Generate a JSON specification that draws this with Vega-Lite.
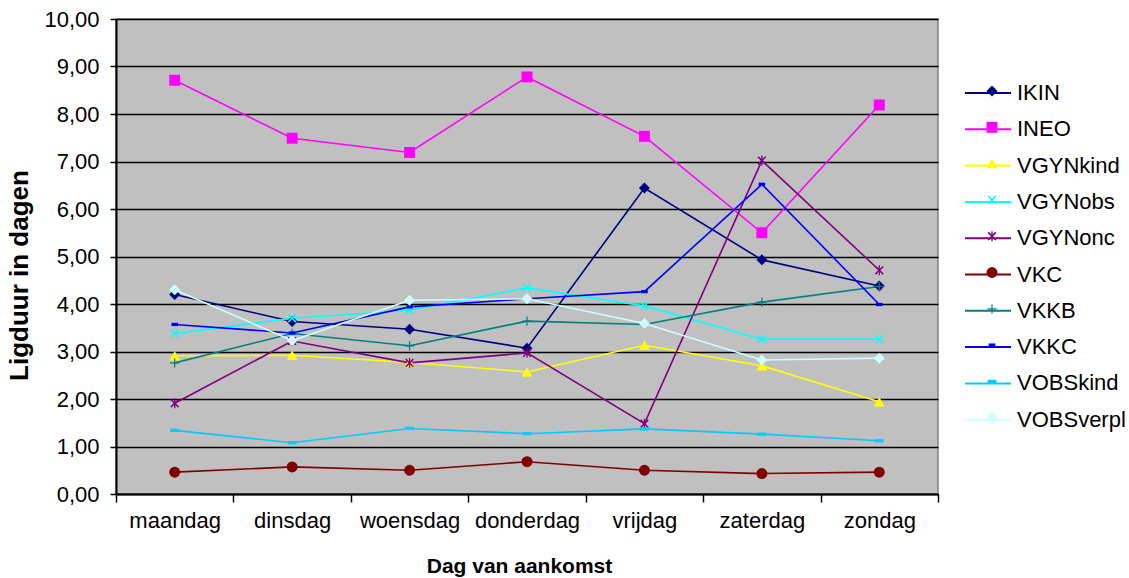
{
  "$schema": "https://vega.github.io/schema/vega-lite/v6.json",
  "width": 822,
  "height": 475,
  "autosize": "none",
  "padding": {"left": 116, "top": 19, "right": 191, "bottom": 84},
  "background": "white",
  "config": {
    "font": "Liberation Sans",
    "view": {"fill": "#C0C0C0", "stroke": "#808080", "strokeWidth": 1.5}
  },
  "data": {
    "values": [
      {"day": "maandag", "series": "IKIN", "value": 4.2},
      {"day": "dinsdag", "series": "IKIN", "value": 3.63},
      {"day": "woensdag", "series": "IKIN", "value": 3.47},
      {"day": "donderdag", "series": "IKIN", "value": 3.07},
      {"day": "vrijdag", "series": "IKIN", "value": 6.44},
      {"day": "zaterdag", "series": "IKIN", "value": 4.93},
      {"day": "zondag", "series": "IKIN", "value": 4.38},
      {"day": "maandag", "series": "INEO", "value": 8.71},
      {"day": "dinsdag", "series": "INEO", "value": 7.49},
      {"day": "woensdag", "series": "INEO", "value": 7.19},
      {"day": "donderdag", "series": "INEO", "value": 8.78},
      {"day": "vrijdag", "series": "INEO", "value": 7.53},
      {"day": "zaterdag", "series": "INEO", "value": 5.5},
      {"day": "zondag", "series": "INEO", "value": 8.19},
      {"day": "maandag", "series": "VGYNkind", "value": 2.91},
      {"day": "dinsdag", "series": "VGYNkind", "value": 2.92},
      {"day": "woensdag", "series": "VGYNkind", "value": 2.77},
      {"day": "donderdag", "series": "VGYNkind", "value": 2.57},
      {"day": "vrijdag", "series": "VGYNkind", "value": 3.13},
      {"day": "zaterdag", "series": "VGYNkind", "value": 2.7},
      {"day": "zondag", "series": "VGYNkind", "value": 1.94},
      {"day": "maandag", "series": "VGYNobs", "value": 3.38},
      {"day": "dinsdag", "series": "VGYNobs", "value": 3.7},
      {"day": "woensdag", "series": "VGYNobs", "value": 3.87},
      {"day": "donderdag", "series": "VGYNobs", "value": 4.34},
      {"day": "vrijdag", "series": "VGYNobs", "value": 3.96},
      {"day": "zaterdag", "series": "VGYNobs", "value": 3.26},
      {"day": "zondag", "series": "VGYNobs", "value": 3.26},
      {"day": "maandag", "series": "VGYNonc", "value": 1.91},
      {"day": "dinsdag", "series": "VGYNonc", "value": 3.22},
      {"day": "woensdag", "series": "VGYNonc", "value": 2.76},
      {"day": "donderdag", "series": "VGYNonc", "value": 2.97},
      {"day": "vrijdag", "series": "VGYNonc", "value": 1.48},
      {"day": "zaterdag", "series": "VGYNonc", "value": 7.02},
      {"day": "zondag", "series": "VGYNonc", "value": 4.71},
      {"day": "maandag", "series": "VKC", "value": 0.46},
      {"day": "dinsdag", "series": "VKC", "value": 0.57},
      {"day": "woensdag", "series": "VKC", "value": 0.5},
      {"day": "donderdag", "series": "VKC", "value": 0.68},
      {"day": "vrijdag", "series": "VKC", "value": 0.5},
      {"day": "zaterdag", "series": "VKC", "value": 0.43},
      {"day": "zondag", "series": "VKC", "value": 0.46},
      {"day": "maandag", "series": "VKKB", "value": 2.76},
      {"day": "dinsdag", "series": "VKKB", "value": 3.38},
      {"day": "woensdag", "series": "VKKB", "value": 3.12},
      {"day": "donderdag", "series": "VKKB", "value": 3.64},
      {"day": "vrijdag", "series": "VKKB", "value": 3.57},
      {"day": "zaterdag", "series": "VKKB", "value": 4.04},
      {"day": "zondag", "series": "VKKB", "value": 4.37},
      {"day": "maandag", "series": "VKKC", "value": 3.57},
      {"day": "dinsdag", "series": "VKKC", "value": 3.39},
      {"day": "woensdag", "series": "VKKC", "value": 3.94},
      {"day": "donderdag", "series": "VKKC", "value": 4.11},
      {"day": "vrijdag", "series": "VKKC", "value": 4.26},
      {"day": "zaterdag", "series": "VKKC", "value": 6.52},
      {"day": "zondag", "series": "VKKC", "value": 3.99},
      {"day": "maandag", "series": "VOBSkind", "value": 1.34},
      {"day": "dinsdag", "series": "VOBSkind", "value": 1.08},
      {"day": "woensdag", "series": "VOBSkind", "value": 1.38},
      {"day": "donderdag", "series": "VOBSkind", "value": 1.27},
      {"day": "vrijdag", "series": "VOBSkind", "value": 1.37},
      {"day": "zaterdag", "series": "VOBSkind", "value": 1.26},
      {"day": "zondag", "series": "VOBSkind", "value": 1.12},
      {"day": "maandag", "series": "VOBSverpl", "value": 4.3},
      {"day": "dinsdag", "series": "VOBSverpl", "value": 3.23},
      {"day": "woensdag", "series": "VOBSverpl", "value": 4.08},
      {"day": "donderdag", "series": "VOBSverpl", "value": 4.11},
      {"day": "vrijdag", "series": "VOBSverpl", "value": 3.59},
      {"day": "zaterdag", "series": "VOBSverpl", "value": 2.82},
      {"day": "zondag", "series": "VOBSverpl", "value": 2.86}
    ]
  },
  "encoding": {
    "x": {
      "field": "day",
      "type": "nominal",
      "sort": ["maandag", "dinsdag", "woensdag", "donderdag", "vrijdag", "zaterdag", "zondag"],
      "scale": {"paddingInner": 0, "paddingOuter": 0},
      "axis": {
        "title": "Dag van aankomst",
        "titleFontSize": 21,
        "titleFontWeight": "bold",
        "titleColor": "black",
        "titleX": 403,
        "titleY": 78,
        "titleAlign": "center",
        "titleBaseline": "alphabetic",
        "labelAngle": 0,
        "labelFontSize": 22,
        "labelColor": "black",
        "labelPadding": 8,
        "tickBand": "extent",
        "tickSize": 8,
        "tickColor": "black",
        "tickWidth": 1.5,
        "domainColor": "black",
        "domainWidth": 2,
        "grid": false
      }
    },
    "y": {
      "field": "value",
      "type": "quantitative",
      "scale": {"domain": [0, 10], "nice": false},
      "axis": {
        "title": "Ligduur in dagen",
        "titleFontSize": 26,
        "titleFontWeight": "bold",
        "titleColor": "black",
        "titleX": -97,
        "titleY": 256,
        "titleAngle": -90,
        "titleAlign": "center",
        "titleBaseline": "middle",
        "values": [0, 1, 2, 3, 4, 5, 6, 7, 8, 9, 10],
        "labelExpr": "replace(format(datum.value, '.2f'), '.', ',')",
        "labelFontSize": 22,
        "labelColor": "black",
        "labelPadding": 11,
        "tickSize": 6,
        "tickColor": "black",
        "tickWidth": 1.5,
        "domainColor": "black",
        "domainWidth": 2,
        "grid": true,
        "gridColor": "black",
        "gridWidth": 1.4
      }
    }
  },
  "layer": [
    {
      "mark": {"type": "line", "strokeWidth": 1.6},
      "encoding": {
        "stroke": {
          "field": "series",
          "type": "nominal",
          "scale": {
            "domain": ["IKIN", "INEO", "VGYNkind", "VGYNobs", "VGYNonc", "VKC", "VKKB", "VKKC", "VOBSkind", "VOBSverpl"],
            "range": ["#000080", "#FF00FF", "#FFFF00", "#00FFFF", "#800080", "#800000", "#008080", "#0000FF", "#00CCFF", "#CCFFFF"]
          },
          "legend": {
            "orient": "none",
            "legendX": 848,
            "legendY": 50,
            "title": null,
            "symbolType": "stroke",
            "symbolSize": 2116,
            "symbolStrokeWidth": 2,
            "labelFontSize": 22,
            "labelColor": "black",
            "labelOffset": 5,
            "rowPadding": 1.3
          }
        }
      }
    },
    {
      "mark": {"type": "point", "filled": true, "size": 120, "opacity": 1},
      "encoding": {
        "fill": {
          "field": "series",
          "type": "nominal",
          "scale": {
            "range": ["#000080", "#FF00FF", "#FFFF00", "#00FFFF", "#800080", "#800000", "#008080", "#0000FF", "#00CCFF", "#CCFFFF"]
          },
          "legend": {
            "orient": "none",
            "legendX": 865,
            "legendY": 61,
            "title": null,
            "symbolSize": 120,
            "symbolStrokeWidth": 0,
            "labelFontSize": 22,
            "labelExpr": "''",
            "labelOffset": 6,
            "rowPadding": 14.3
          }
        },
        "shape": {
          "field": "series",
          "type": "nominal",
          "scale": {
            "range": [
              "diamond",
              "square",
              "triangle-up",
              "M-0.8,-0.6L-0.6,-0.8L0,-0.2L0.6,-0.8L0.8,-0.6L0.2,0L0.8,0.6L0.6,0.8L0,0.2L-0.6,0.8L-0.8,0.6L-0.2,0Z",
              "M-0.8,-0.6L-0.6,-0.8L0,-0.2L0.6,-0.8L0.8,-0.6L0.2,0L0.8,0.6L0.6,0.8L0,0.2L-0.6,0.8L-0.8,0.6L-0.2,0Z M-0.12,-0.9H0.12V0.9H-0.12Z",
              "circle",
              "M-0.85,-0.11H0.85V0.11H-0.85Z M-0.11,-0.85H0.11V0.85H-0.11Z",
              "M-0.6,-0.3H0.6V0.3H-0.6Z",
              "M-0.8,-0.3H0.8V0.3H-0.8Z",
              "diamond"
            ]
          },
          "legend": {
            "orient": "none",
            "legendX": 865,
            "legendY": 61,
            "title": null,
            "symbolSize": 120,
            "symbolStrokeWidth": 0,
            "labelFontSize": 22,
            "labelExpr": "''",
            "labelOffset": 6,
            "rowPadding": 14.3
          }
        }
      }
    }
  ]
}
